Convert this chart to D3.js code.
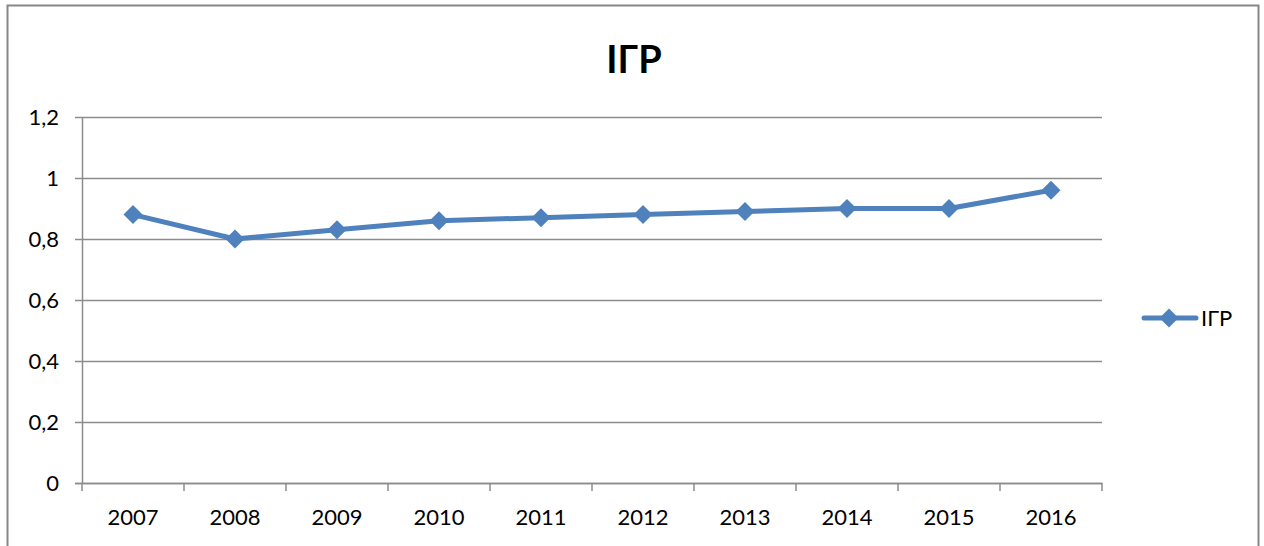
<!DOCTYPE html>
<html>
<head>
<meta charset="utf-8">
<script src="https://cdn.jsdelivr.net/npm/d3@7"></script>
<style>
  body { margin: 0; background: #fff; }
  svg { display: block; font-family: Lato, "Open Sans", sans-serif; }
</style>
</head>
<body>
<svg id="chart" width="1264" height="546"></svg>
<script>
var years = ["2007", "2008", "2009", "2010", "2011", "2012", "2013", "2014", "2015", "2016"];
var igrValues = [0.88, 0.80, 0.83, 0.86, 0.87, 0.88, 0.89, 0.90, 0.90, 0.96];
var yTicks = [0, 0.2, 0.4, 0.6, 0.8, 1, 1.2];
var seriesName = "ІГР";
var titleText = "ІГР";

var data = years.map(function(y, i) { return {year: y, value: igrValues[i]}; });

var margin = {top: 117, left: 82, right: 162, bottom: 63};
var width = 1264 - margin.left - margin.right,
    height = 546 - margin.top - margin.bottom;

var svg = d3.select("#chart");

// outer chart border
svg.append("rect")
  .attr("x", 7.5).attr("y", 5.5)
  .attr("width", 1251).attr("height", 560)
  .attr("fill", "none").attr("stroke", "#878787").attr("stroke-width", 2);

svg.append("text")
  .attr("x", 634).attr("y", 73)
  .attr("text-anchor", "middle")
  .attr("font-size", 38).attr("font-weight", "bold")
  .text(titleText);

var g = svg.append("g").attr("transform", "translate(" + margin.left + "," + margin.top + ")");

var xScale = d3.scaleBand().domain(years).range([0, width]);
var yScale = d3.scaleLinear().domain([0, 1.2]).range([height, 0]);

// gridlines
g.selectAll(".grid").data(yTicks.slice(1)).enter().append("line")
  .attr("x1", 0).attr("x2", width)
  .attr("y1", d => Math.round(yScale(d)) + 0.5).attr("y2", d => Math.round(yScale(d)) + 0.5)
  .attr("stroke", "#8c8c8c").attr("stroke-width", 1.5);

var fmt = function(d) { return String(d).replace(".", ","); };

var yAxis = g.append("g")
  .call(d3.axisLeft(yScale).tickValues(yTicks).tickFormat(fmt).tickSize(7).tickPadding(16));
var xAxis = g.append("g")
  .attr("transform", "translate(0," + height + ")")
  .call(d3.axisBottom(xScale).tickSize(0).tickPadding(26));

// category boundary ticks
xAxis.selectAll(".bound").data(d3.range(years.length + 1)).enter().append("line")
  .attr("x1", d => d * xScale.step()).attr("x2", d => d * xScale.step())
  .attr("y1", 0).attr("y2", 8)
  .attr("stroke", "#8c8c8c").attr("stroke-width", 1.5);

[yAxis, xAxis].forEach(function(a) {
  a.selectAll("path,line").attr("stroke", "#8c8c8c").attr("stroke-width", 1.5);
  a.selectAll("text").attr("font-size", 22).attr("fill", "#000").attr("font-family", "Lato, 'Open Sans', sans-serif");
});
yAxis.select(".domain").remove();
g.append("line").attr("x1", 0.5).attr("x2", 0.5).attr("y1", 0).attr("y2", height)
  .attr("stroke", "#8c8c8c").attr("stroke-width", 1.5);
g.append("line").attr("x1", -7).attr("x2", width).attr("y1", height + 0.5).attr("y2", height + 0.5)
  .attr("stroke", "#8c8c8c").attr("stroke-width", 1.5);

var cx = d => xScale(d.year) + xScale.bandwidth() / 2;

var line = d3.line().x(cx).y(d => yScale(d.value));
g.append("path").datum(data)
  .attr("fill", "none").attr("stroke", "#4f81bd").attr("stroke-width", 5)
  .attr("stroke-linejoin", "round")
  .attr("d", line);

var diamond = d3.symbol().type(d3.symbolSquare).size(180);
g.selectAll(".pt").data(data).enter().append("path")
  .attr("d", diamond)
  .attr("transform", d => "translate(" + cx(d) + "," + yScale(d.value) + ") rotate(45)")
  .attr("fill", "#4f81bd");

// legend
var lg = svg.append("g").attr("transform", "translate(1142,318)");
lg.append("line").attr("x1", 2).attr("x2", 54).attr("y1", 0).attr("y2", 0)
  .attr("stroke", "#4f81bd").attr("stroke-width", 5).attr("stroke-linecap", "round");
lg.append("path").attr("d", diamond).attr("transform", "translate(27,0) rotate(45)").attr("fill", "#4f81bd");
lg.append("text").attr("x", 59).attr("y", 8).attr("font-size", 22).text(seriesName);
</script>
</body>
</html>
